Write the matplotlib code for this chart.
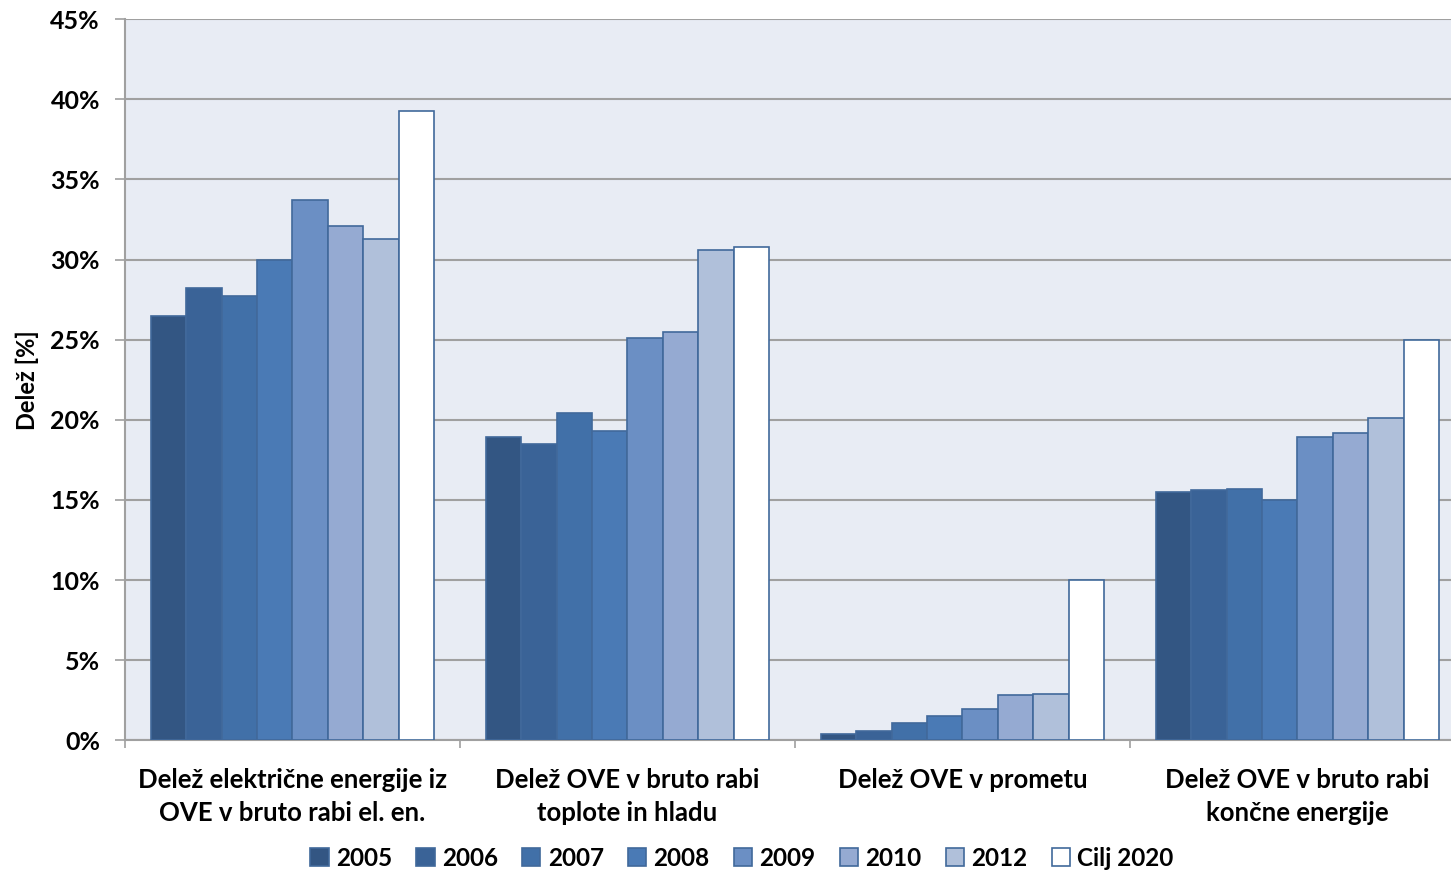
import numpy as np
import matplotlib
matplotlib.use("Agg")
import matplotlib.pyplot as plt
from matplotlib.ticker import FuncFormatter, FixedLocator

categories = ["Delež električne energije iz\nOVE v bruto rabi el. en.",
              "Delež OVE v bruto rabi\ntoplote in hladu",
              "Delež OVE v prometu",
              "Delež OVE v bruto rabi\nkončne energije"]
series = ["2005", "2006", "2007", "2008", "2009", "2010", "2012", "Cilj 2020"]
values = [
    [26.5, 18.9, 0.4, 15.5],   # 2005
    [28.2, 18.5, 0.6, 15.6],   # 2006
    [27.7, 20.4, 1.1, 15.7],   # 2007
    [30.0, 19.3, 1.5, 15.0],   # 2008
    [33.7, 25.1, 1.95, 18.9],  # 2009
    [32.1, 25.5, 2.8, 19.2],   # 2010
    [31.3, 30.6, 2.9, 20.1],   # 2012
    [39.3, 30.8, 10.0, 25.0],  # Cilj 2020
]
colors = ["#335683", "#3a6397", "#4170a8", "#4a7ab5", "#6b8fc4", "#95aad2", "#b0c0da", "#ffffff"]

plt.rcParams['font.family'] = ['Lato', 'DejaVu Sans']
plt.rcParams['font.weight'] = 'bold'

fig = plt.figure(figsize=(14.51, 8.72), dpi=100)
# plot area runs a bit past the right edge of the picture, like the original
ax = fig.add_axes([0.0861, 0.151, 0.9235, 0.827])
ax.set_facecolor("#e8ecf4")

n = len(series)
span = 0.845
w = span / n
x = np.arange(len(categories))
for i, (name, vals, c) in enumerate(zip(series, values, colors)):
    ax.bar(x - span/2 + w*(i+0.5), vals, width=w, color=c, edgecolor="#41699b",
           linewidth=1.2, label=name, zorder=3)

ax.set_xlim(-0.5, len(categories) - 0.5)
ax.set_ylim(0, 45)
ax.set_yticks(range(0, 46, 5))
ax.yaxis.set_major_formatter(FuncFormatter(lambda v, p: f"{int(v)}%"))
ax.grid(axis="y", color="#a0a0a0", linewidth=1.5, zorder=0)
ax.set_axisbelow(True)

ax.set_xticks(x)
ax.set_xticklabels(categories, fontsize=18.5, fontweight="bold", linespacing=1.45)
ax.tick_params(axis="x", length=0, pad=20)
ax.xaxis.set_minor_locator(FixedLocator([-0.5, 0.5, 1.5, 2.5]))
ax.tick_params(axis="x", which="minor", length=6, color="#a0a0a0", width=1.2)
ax.tick_params(axis="y", length=7, color="#a0a0a0", width=1.2, labelsize=18, pad=11)

for s in ["top", "right"]:
    ax.spines[s].set_visible(False)
for s in ["left", "bottom"]:
    ax.spines[s].set_color("#a0a0a0")
    ax.spines[s].set_linewidth(1.5)

ax.set_ylabel("Delež [%]", fontsize=17, fontweight="bold", labelpad=8)

ax.legend(loc="center", bbox_to_anchor=(742 / 1451, 14 / 872), bbox_transform=fig.transFigure,
          ncol=n, frameon=False, fontsize=17.5, handlelength=0.75, handleheight=0.75,
          handletextpad=0.3, columnspacing=1.0)

fig.savefig("out.png", dpi=100)
